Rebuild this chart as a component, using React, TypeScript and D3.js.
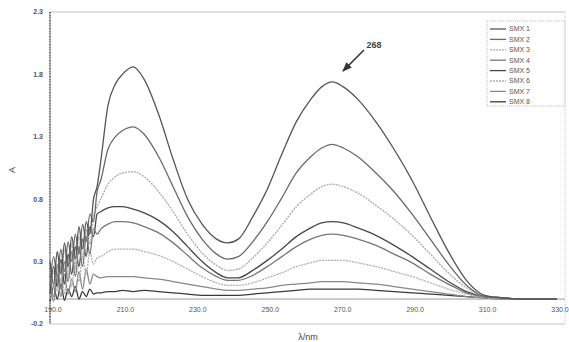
import React, { useEffect, useRef } from 'react';
import * as d3 from 'd3';

// wavelengths (nm): noisy start at 1 nm steps, then the smooth part
const wavelengths = [
  190, 191, 192, 193, 194, 195, 196, 197, 198, 199, 200, 201, 202, 203,
  204, 206, 208, 210, 213, 216, 220, 224, 228, 232, 236, 239, 242, 246, 250, 254,
  258, 262, 265, 268, 271, 275, 280, 285, 290, 295, 300, 305, 310, 315, 320, 325, 330,
];

const smx1 = [
  0.30, 0.12, 0.38, 0.20, 0.45, 0.26, 0.50, 0.32, 0.58, 0.40, 0.62, 0.52, 0.80, 0.90,
  1.10, 1.55, 1.72, 1.80, 1.86, 1.76, 1.48, 1.12, 0.80, 0.60, 0.48, 0.45, 0.48, 0.66, 0.88, 1.16,
  1.42, 1.60, 1.70, 1.74, 1.70, 1.60, 1.42, 1.20, 0.95, 0.66, 0.38, 0.15, 0.03, 0.01, 0.0, 0.0, 0.0,
];
const smx2 = [
  0.10, 0.34, 0.18, 0.40, 0.22, 0.46, 0.30, 0.52, 0.36, 0.60, 0.46, 0.68, 0.62, 0.86,
  0.95, 1.20, 1.30, 1.35, 1.38, 1.32, 1.14, 0.90, 0.66, 0.48, 0.36, 0.32, 0.34, 0.46, 0.62, 0.81,
  1.01, 1.14, 1.21, 1.24, 1.21, 1.14, 1.01, 0.86, 0.68, 0.48, 0.28, 0.11, 0.02, 0.01, 0.0, 0.0, 0.0,
];
const smx3 = [
  0.36, 0.08, 0.28, 0.14, 0.40, 0.18, 0.44, 0.24, 0.50, 0.34, 0.56, 0.44, 0.66, 0.74,
  0.80, 0.92, 0.98, 1.01, 1.02, 0.98, 0.86, 0.70, 0.52, 0.37, 0.27, 0.23, 0.24, 0.33, 0.45, 0.59,
  0.74, 0.84, 0.90, 0.92, 0.90, 0.85, 0.75, 0.64, 0.51, 0.36, 0.21, 0.09, 0.02, 0.01, 0.0, 0.0, 0.0,
];
const smx4 = [
  0.20, 0.02, 0.28, 0.08, 0.30, 0.14, 0.38, 0.18, 0.42, 0.26, 0.50, 0.36, 0.56, 0.52,
  0.56, 0.60, 0.62, 0.62, 0.61, 0.58, 0.53, 0.45, 0.35, 0.25, 0.18, 0.15, 0.15, 0.19, 0.26, 0.34,
  0.42, 0.48, 0.51, 0.52, 0.51, 0.48, 0.43, 0.36, 0.29, 0.20, 0.12, 0.05, 0.02, 0.01, 0.0, 0.0, 0.0,
];
const smx5 = [
  0.04, 0.26, 0.10, 0.32, 0.12, 0.36, 0.20, 0.42, 0.26, 0.48, 0.34, 0.58, 0.50, 0.68,
  0.70, 0.73, 0.74, 0.74, 0.72, 0.69, 0.63, 0.54, 0.42, 0.30, 0.21, 0.17, 0.17, 0.23, 0.31, 0.40,
  0.50, 0.57, 0.61, 0.62, 0.61, 0.57, 0.51, 0.43, 0.34, 0.24, 0.14, 0.06, 0.02, 0.01, 0.0, 0.0, 0.0,
];
const smx6 = [
  0.00, 0.22, 0.06, 0.26, 0.04, 0.28, 0.10, 0.30, 0.14, 0.34, 0.20, 0.38, 0.28, 0.33,
  0.34, 0.38, 0.40, 0.40, 0.40, 0.38, 0.35, 0.30, 0.24, 0.18, 0.13, 0.11, 0.11, 0.13, 0.17, 0.21,
  0.26, 0.29, 0.31, 0.31, 0.31, 0.29, 0.26, 0.22, 0.18, 0.13, 0.08, 0.04, 0.01, 0.0, 0.0, 0.0, 0.0,
];
const smx7 = [
  0.14, -0.02, 0.18, 0.02, 0.20, 0.04, 0.16, 0.06, 0.22, 0.08, 0.24, 0.12, 0.20, 0.18,
  0.17, 0.18, 0.18, 0.18, 0.18, 0.17, 0.16, 0.14, 0.12, 0.10, 0.08, 0.07, 0.07, 0.08, 0.09, 0.11,
  0.12, 0.13, 0.14, 0.14, 0.14, 0.13, 0.12, 0.10, 0.08, 0.06, 0.04, 0.02, 0.01, 0.0, 0.0, 0.0, 0.0,
];
const smx8 = [
  -0.02, 0.10, 0.00, 0.12, -0.01, 0.08, 0.02, 0.10, 0.00, 0.06, 0.02, 0.08, 0.04, 0.05,
  0.05, 0.06, 0.06, 0.07, 0.06, 0.07, 0.06, 0.05, 0.04, 0.03, 0.03, 0.03, 0.03, 0.04, 0.05, 0.06,
  0.07, 0.08, 0.08, 0.08, 0.08, 0.08, 0.07, 0.06, 0.05, 0.04, 0.03, 0.02, 0.01, 0.0, 0.0, 0.0, 0.0,
];

const seriesNames = ['SMX 1', 'SMX 2', 'SMX 3', 'SMX 4', 'SMX 5', 'SMX 6', 'SMX 7', 'SMX 8'];
const seriesValues = [smx1, smx2, smx3, smx4, smx5, smx6, smx7, smx8];
const seriesColors = ['#555', '#6a6a6a', '#aaa', '#777', '#484848', '#b0b0b0', '#888', '#3a3a3a'];
const seriesDash = ['', '', '2,1', '', '', '2,1', '', ''];

const yTicks = [2.3, 1.8, 1.3, 0.8, 0.3, -0.2];
const xTicks = [190, 210, 230, 250, 270, 290, 310, 330];
const xTickLabels = ['190.0', '210.0', '230.0', '250.0', '270.0', '290.0', '310.0', '330.0'];
const peakLabel = '268';

const App = () => {
  const ref = useRef<SVGSVGElement>(null);

  useEffect(() => {
    const svg = d3.select(ref.current);
    svg.selectAll('*').remove();

    const x = d3.scaleLinear().domain([190, 330]).range([50, 557]);
    const y = d3.scaleLinear().domain([-0.2, 2.3]).range([324, 12]);
    const font = 'Arial, "Liberation Sans", sans-serif';

    // plot frame
    svg.append('line').attr('x1', 50).attr('x2', 565).attr('y1', y(2.3)).attr('y2', y(2.3))
      .attr('stroke', '#bcc4bc').attr('stroke-width', 1);
    svg.append('line').attr('x1', 565).attr('x2', 565).attr('y1', y(2.3)).attr('y2', y(-0.2))
      .attr('stroke', '#ccc').attr('stroke-width', 1).attr('stroke-dasharray', '1,1');
    svg.append('line').attr('x1', 50).attr('x2', 565).attr('y1', y(-0.2)).attr('y2', y(-0.2))
      .attr('stroke', '#c4c4c4').attr('stroke-width', 1);
    svg.append('line').attr('x1', 50).attr('x2', 565).attr('y1', y(0)).attr('y2', y(0))
      .attr('stroke', '#999').attr('stroke-width', 1);

    // y axis
    svg.append('line').attr('x1', 50).attr('x2', 50).attr('y1', y(2.3)).attr('y2', y(-0.2))
      .attr('stroke', '#444').attr('stroke-width', 1.6).attr('stroke-dasharray', '1,0.6');
    svg.append('g').selectAll('text').data(yTicks).enter().append('text')
      .attr('x', 43).attr('y', d => y(d)).attr('dy', '0.35em')
      .attr('text-anchor', 'end').attr('font-family', font).attr('font-size', 7)
      .attr('font-weight', 'bold').attr('fill', '#555')
      .text(d => d.toFixed(1));

    svg.append('g').selectAll('text').data(xTicks).enter().append('text')
      .attr('x', d => x(d) + 3).attr('y', y(0) + 13)
      .attr('text-anchor', 'middle').attr('font-family', font).attr('font-size', 7)
      .attr('fill', '#555')
      .text((d, i) => xTickLabels[i]);

    // axis titles
    svg.append('text').attr('transform', 'translate(15,170) rotate(-90)')
      .attr('text-anchor', 'middle').attr('font-family', font).attr('font-size', 9)
      .attr('fill', '#444').text('A');
    svg.append('text').attr('x', 308).attr('y', 340)
      .attr('text-anchor', 'middle').attr('font-family', font).attr('font-size', 9)
      .attr('fill', '#444').text('λ/nm');

    // spectra
    const line = d3.line<number>()
      .x((d, i) => x(wavelengths[i]))
      .y(d => y(d))
      .curve(d3.curveMonotoneX);

    svg.append('g').selectAll('path').data(seriesValues.slice().reverse()).enter().append('path')
      .attr('d', d => line(d))
      .attr('fill', 'none')
      .attr('stroke', (d, i) => seriesColors[7 - i])
      .attr('stroke-dasharray', (d, i) => seriesDash[7 - i])
      .attr('stroke-width', 1.3);

    // peak annotation
    svg.append('defs').append('marker').attr('id', 'arr')
      .attr('viewBox', '0 0 10 10').attr('refX', 9).attr('refY', 5)
      .attr('markerWidth', 6).attr('markerHeight', 6).attr('orient', 'auto')
      .append('path').attr('d', 'M0,1 L10,5 L0,9 Z').attr('fill', '#333');
    svg.append('line').attr('x1', 364).attr('y1', 50).attr('x2', 343).attr('y2', 71)
      .attr('stroke', '#333').attr('stroke-width', 1.6).attr('marker-end', 'url(#arr)');
    svg.append('text').attr('x', 374).attr('y', 48).attr('text-anchor', 'middle')
      .attr('font-family', font).attr('font-size', 9).attr('font-weight', 'bold')
      .attr('fill', '#444').text(peakLabel);

    // legend
    const lg = svg.append('g');
    lg.append('rect').attr('x', 487).attr('y', 21).attr('width', 78).attr('height', 85)
      .attr('fill', 'white').attr('stroke', '#aaa').attr('stroke-width', 0.8)
      .attr('stroke-dasharray', '1,1');
    const item = lg.selectAll('g.item').data(seriesNames).enter().append('g')
      .attr('transform', (d, i) => `translate(0,${29 + i * 10.4})`);
    item.append('line').attr('x1', 490).attr('x2', 506).attr('y1', 0).attr('y2', 0)
      .attr('stroke', (d, i) => seriesColors[i])
      .attr('stroke-dasharray', (d, i) => seriesDash[i])
      .attr('stroke-width', 1.3);
    item.append('text').attr('x', 509).attr('y', 0).attr('dy', '0.35em')
      .attr('font-family', font).attr('font-size', 7).attr('fill', '#555')
      .text(d => d);
  }, []);

  return (
    <svg ref={ref} width={569} height={342}
      style={{ position: 'absolute', left: 0, top: 0, background: 'white' }} />
  );
};

export default App;
